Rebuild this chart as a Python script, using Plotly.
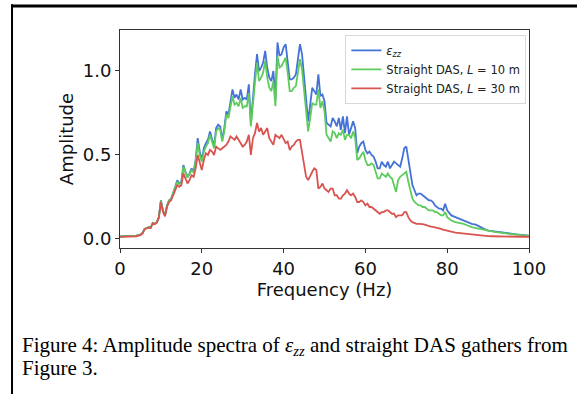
import plotly.graph_objects as go

# Frequencies (Hz): 0.5 Hz steps to 80 Hz, then 1 Hz steps
freq = [i * 0.5 for i in range(0, 161)] + [float(f) for f in range(81, 101)]

# Amplitude of eps_zz
ezz = [
    0.015, 0.015, 0.015, 0.015, 0.016, 0.016, 0.017, 0.018, 0.019, 0.022,   # 0-4.5
    0.026, 0.035, 0.060, 0.065, 0.070, 0.068, 0.095, 0.090, 0.100, 0.130,   # 5-9.5
    0.230, 0.170, 0.140, 0.200, 0.230, 0.240, 0.270, 0.310, 0.350, 0.330,   # 10-14.5
    0.340, 0.440, 0.400, 0.370, 0.390, 0.420, 0.400, 0.470, 0.600, 0.520,   # 15-19.5
    0.470, 0.540, 0.570, 0.590, 0.640, 0.600, 0.550, 0.660, 0.680, 0.670,   # 20-24.5
    0.590, 0.660, 0.760, 0.740, 0.820, 0.890, 0.840, 0.860, 0.830, 0.890,   # 25-29.5
    0.830, 0.840, 0.830, 0.920, 0.690, 0.860, 0.980, 1.100, 1.000, 1.020,   # 30-34.5
    1.050, 1.120, 1.020, 0.960, 0.940, 1.000, 0.830, 1.170, 1.090, 1.100,   # 35-39.5
    1.140, 1.160, 1.060, 0.950, 0.950, 0.960, 0.980, 1.070, 1.160, 1.100,   # 40-44.5
    0.980, 0.820, 0.700, 0.800, 0.900, 0.880, 0.860, 0.980, 0.850, 0.860,   # 45-49.5
    0.820, 0.690, 0.680, 0.670, 0.720, 0.700, 0.670, 0.720, 0.650, 0.730,   # 50-54.5
    0.630, 0.730, 0.620, 0.660, 0.700, 0.660, 0.510, 0.550, 0.570, 0.580,   # 55-59.5
    0.530, 0.510, 0.520, 0.500, 0.490, 0.460, 0.420, 0.420, 0.460, 0.440,   # 60-64.5
    0.430, 0.460, 0.420, 0.440, 0.460, 0.450, 0.440, 0.430, 0.480, 0.540,   # 65-69.5
    0.550, 0.470, 0.380, 0.320, 0.290, 0.260, 0.270, 0.270, 0.260, 0.250,   # 70-74.5
    0.240, 0.230, 0.230, 0.220, 0.200, 0.190, 0.180, 0.180, 0.170, 0.210,   # 75-79.5
    0.170,                                                                  # 80
    0.140, 0.130, 0.120, 0.110, 0.100, 0.090, 0.085, 0.070, 0.060, 0.050,   # 81-90
    0.046, 0.043, 0.040, 0.037, 0.033, 0.030, 0.027, 0.024, 0.022, 0.020,   # 91-100
]

# Straight DAS, L = 10 m
das10 = [
    0.015, 0.015, 0.015, 0.015, 0.016, 0.016, 0.017, 0.018, 0.019, 0.022,
    0.026, 0.035, 0.060, 0.065, 0.070, 0.068, 0.095, 0.090, 0.100, 0.130,
    0.228, 0.168, 0.140, 0.198, 0.228, 0.238, 0.268, 0.305, 0.340, 0.325,
    0.335, 0.430, 0.395, 0.365, 0.385, 0.410, 0.395, 0.460, 0.570, 0.500,
    0.460, 0.520, 0.550, 0.570, 0.620, 0.580, 0.540, 0.640, 0.660, 0.650,
    0.580, 0.640, 0.740, 0.720, 0.790, 0.850, 0.800, 0.810, 0.790, 0.840,
    0.780, 0.790, 0.790, 0.870, 0.670, 0.820, 0.930, 1.050, 0.940, 0.960,
    0.990, 1.060, 0.960, 0.900, 0.880, 0.940, 0.790, 1.090, 1.020, 1.030,
    1.060, 1.080, 0.990, 0.880, 0.880, 0.900, 0.910, 1.000, 1.070, 1.010,
    0.900, 0.750, 0.640, 0.720, 0.810, 0.800, 0.800, 0.890, 0.780, 0.820,
    0.760, 0.620, 0.600, 0.580, 0.640, 0.630, 0.600, 0.630, 0.620, 0.650,
    0.590, 0.620, 0.620, 0.600, 0.640, 0.600, 0.470, 0.480, 0.500, 0.520,
    0.470, 0.440, 0.440, 0.450, 0.440, 0.400, 0.360, 0.360, 0.390, 0.380,
    0.370, 0.390, 0.370, 0.360, 0.320, 0.280, 0.350, 0.370, 0.380, 0.390,
    0.400, 0.340, 0.280, 0.240, 0.220, 0.210, 0.200, 0.200, 0.190, 0.190,
    0.180, 0.170, 0.170, 0.170, 0.160, 0.160, 0.150, 0.140, 0.140, 0.160,
    0.130,
    0.110, 0.100, 0.095, 0.090, 0.080, 0.070, 0.065, 0.060, 0.052, 0.047,
    0.042, 0.040, 0.037, 0.034, 0.031, 0.028, 0.025, 0.022, 0.020, 0.018,
]

# Straight DAS, L = 30 m
das30 = [
    0.012, 0.012, 0.012, 0.012, 0.013, 0.013, 0.014, 0.015, 0.016, 0.019,
    0.023, 0.032, 0.057, 0.062, 0.067, 0.065, 0.092, 0.087, 0.097, 0.125,
    0.220, 0.160, 0.135, 0.190, 0.220, 0.230, 0.260, 0.295, 0.320, 0.310,
    0.320, 0.390, 0.360, 0.330, 0.350, 0.380, 0.370, 0.420, 0.500, 0.460,
    0.410, 0.470, 0.510, 0.500, 0.530, 0.520, 0.500, 0.550, 0.540, 0.530,
    0.540, 0.550, 0.560, 0.580, 0.610, 0.600, 0.590, 0.610, 0.590, 0.570,
    0.550, 0.560, 0.580, 0.620, 0.500, 0.600, 0.630, 0.690, 0.640, 0.660,
    0.620, 0.640, 0.660, 0.600, 0.580, 0.560, 0.620, 0.610, 0.600, 0.620,
    0.590, 0.570, 0.580, 0.530, 0.550, 0.560, 0.580, 0.590, 0.590, 0.520,
    0.440, 0.370, 0.350, 0.380, 0.400, 0.420, 0.410, 0.300, 0.310, 0.330,
    0.300, 0.290, 0.280, 0.300, 0.300, 0.260, 0.260, 0.240, 0.240, 0.260,
    0.270, 0.290, 0.270, 0.260, 0.270, 0.250, 0.220, 0.220, 0.230, 0.220,
    0.200, 0.210, 0.190, 0.190, 0.180, 0.170, 0.160, 0.150, 0.160, 0.160,
    0.170, 0.170, 0.160, 0.150, 0.150, 0.130, 0.140, 0.140, 0.140, 0.160,
    0.160, 0.130, 0.110, 0.100, 0.095, 0.090, 0.090, 0.090, 0.088, 0.085,
    0.080, 0.075, 0.073, 0.072, 0.070, 0.068, 0.065, 0.060, 0.055, 0.053,
    0.047,
    0.043, 0.038, 0.035, 0.031, 0.028, 0.025, 0.022, 0.020, 0.018, 0.017,
    0.016, 0.015, 0.015, 0.014, 0.014, 0.014, 0.013, 0.013, 0.013, 0.013,
]

series_names = [
    "<i>ε</i><sub><i>zz</i></sub>",
    "Straight DAS, <i>L</i> = 10 m",
    "Straight DAS, <i>L</i> = 30 m",
]
series_colors = ["#4472d6", "#5dcc5d", "#d9534f"]

x_ticks = [0, 20, 40, 60, 80, 100]
y_ticks = [0.0, 0.5, 1.0]

caption_lines = [
    "Figure 4: Amplitude spectra of <i>ε</i><sub><i>zz</i></sub> and straight DAS gathers from",
    "Figure 3.",
]

fig = go.Figure()
for name, vals, col in zip(series_names, [ezz, das10, das30], series_colors):
    fig.add_trace(go.Scatter(x=freq, y=vals, mode="lines", name=name,
                             line=dict(color=col, width=1.8)))

axis_font = dict(family="DejaVu Sans", size=18, color="#111")
fig.update_layout(
    width=577, height=394,
    margin=dict(l=120, r=48, t=30, b=146),
    paper_bgcolor="white", plot_bgcolor="white",
    showlegend=True,
    legend=dict(x=0.551, y=0.978, xanchor="left", yanchor="top",
                bgcolor="rgba(255,255,255,0.9)", bordercolor="#d8d8d8",
                borderwidth=1, font=dict(family="DejaVu Sans", size=11.5, color="#222"),
                tracegroupgap=0, itemwidth=30),
    xaxis=dict(range=[0, 100], tickvals=x_ticks, ticktext=[str(t) for t in x_ticks],
               showgrid=False, zeroline=False, showline=True, linecolor="#333",
               linewidth=1, mirror=True, ticks="outside", ticklen=4, tickcolor="#333",
               tickfont=axis_font,
               title=dict(text="Frequency (Hz)", font=axis_font, standoff=5)),
    yaxis=dict(range=[-0.054, 1.244], tickvals=y_ticks,
               ticktext=["0.0", "0.5", "1.0"],
               showgrid=False, zeroline=False, showline=True, linecolor="#333",
               linewidth=1, mirror=True, ticks="outside", ticklen=4, tickcolor="#333",
               tickfont=axis_font,
               title=dict(text="Amplitude", font=axis_font, standoff=4)),
)

# page frame (top and left rules)
fig.add_shape(type="line", xref="paper", yref="paper", x0=-0.266, x1=1.12,
              y0=1.110, y1=1.110, line=dict(color="black", width=3))
fig.add_shape(type="line", xref="paper", yref="paper", x0=-0.264, x1=-0.264,
              y0=1.118, y1=-0.68, line=dict(color="black", width=2))

# caption (two lines)
for txt, ypos in zip(caption_lines, [-0.383, -0.487]):
    fig.add_annotation(
        xref="paper", yref="paper", x=-0.2445, y=ypos, xanchor="left", yanchor="top",
        align="left", showarrow=False, text=txt,
        font=dict(family="Liberation Serif", size=21, color="black"),
    )

fig.write_html("out.html")
